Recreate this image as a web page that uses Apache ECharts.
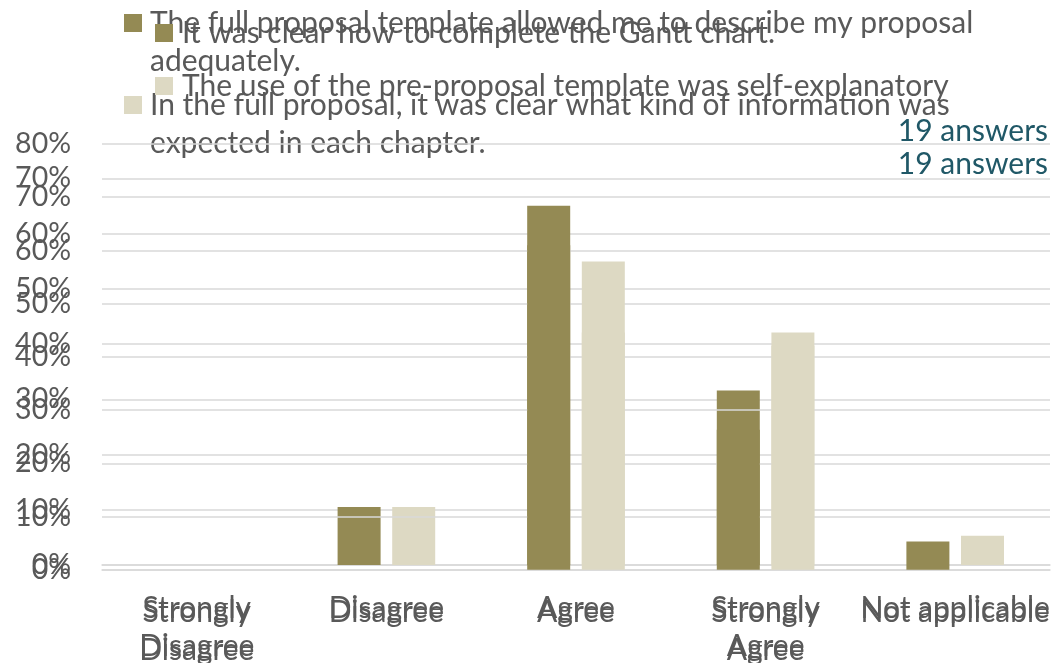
<!DOCTYPE html>
<html>
<head>
<meta charset="utf-8">
<script src="https://cdn.jsdelivr.net/npm/echarts@6/dist/echarts.min.js"></script>
<style>
html,body{margin:0;padding:0;background:#fff;}
#c{width:1052px;height:663px;}
</style>
</head>
<body>
<div id="c"></div>
<script>
// Categories (shared by both overlaid charts)
var categories = ['Strongly Disagree', 'Disagree', 'Agree', 'Strongly Agree', 'Not applicable'];

// Chart A (axis 0–70%)
var nameFullDescribe = 'The full proposal template allowed me to describe my proposal\nadequately.';
var nameFullChapters = 'In the full proposal, it was clear what kind of information was\nexpected in each chapter.';
var fullDescribe = [0, 10.5, 57.9, 31.6, 0];
var fullChapters = [0, 10.5, 42.1, 42.1, 5.3];
var answersA = '19 answers';
var maxA = 70;

// Chart B (axis 0–80%)
var nameGantt = 'It was clear how to complete the Gantt chart.';
var namePreProposal = 'The use of the pre-proposal template was self-explanatory';
var gantt = [0, 0, 68.4, 26.3, 5.3];
var preProposal = [0, 0, 57.9, 42.1, 0];
var answersB = '19 answers';
var maxB = 80;

var tickInterval = 10;

var FONT = 'Lato';
var GRAY = '#595959';
var DARK = '#948A54';
var LIGHT = '#DDD9C3';
var GRID = '#D9D9D9';
var TEAL = '#205867';
var FS = 30;

function yAxis(gridIndex, max, z) {
  return {
    type: 'value', gridIndex: gridIndex, min: 0, max: max, interval: tickInterval, z: z,
    axisLine: {show: false}, axisTick: {show: false},
    splitLine: {show: true, lineStyle: {color: GRID, width: 1.5}},
    axisLabel: {formatter: '{value}%', color: GRAY, fontFamily: FONT, fontSize: 28.5, margin: 31}
  };
}
function xAxis(gridIndex, z) {
  return {
    type: 'category', gridIndex: gridIndex, data: categories, z: z,
    axisLine: {show: true, lineStyle: {color: GRID, width: 1.5}},
    axisTick: {show: false},
    axisLabel: {interval: 0, color: GRAY, fontFamily: FONT, fontSize: FS, lineHeight: 38,
      margin: 24, hideOverlap: false,
      formatter: function (v) { return v.replace(/^Strongly /, 'Strongly\n'); }}
  };
}
function legend(name, left, top, twoLine, z) {
  return {
    data: [name], left: left, top: top, orient: 'vertical', padding: 0, z: z,
    icon: 'rect', itemWidth: 18, itemHeight: 18, itemGap: 0, selectedMode: false,
    formatter: twoLine ? function (n) { return '\n' + n; } : '{name}',
    textStyle: {
      color: GRAY, fontFamily: FONT, fontSize: FS, lineHeight: 38,
      padding: [0, 0, 0, twoLine ? 3 : 4]
    }
  };
}
function bar(name, data, xi, yi, color, z) {
  return {
    type: 'bar', name: name, data: data, xAxisIndex: xi, yAxisIndex: yi, z: z,
    barWidth: 43, barGap: '27%', itemStyle: {color: color}, animation: false
  };
}

var chart = echarts.init(document.getElementById('c'), null, {renderer: 'canvas'});
chart.setOption({
  animation: false,
  backgroundColor: '#fff',
  title: [
    {text: answersA, right: 4, top: 145, padding: 0, z: 3,
      textStyle: {color: TEAL, fontFamily: FONT, fontSize: FS, fontWeight: 'normal', lineHeight: 38}},
    {text: answersB, right: 4, top: 112, padding: 0, z: 6,
      textStyle: {color: TEAL, fontFamily: FONT, fontSize: FS, fontWeight: 'normal', lineHeight: 38}}
  ],
  legend: [
    legend(nameFullDescribe, 124, -34, true, 3),
    legend(nameFullChapters, 124, 48, true, 3),
    legend(nameGantt, 155, 14, false, 6),
    legend(namePreProposal, 155, 67, false, 6)
  ],
  grid: [
    {left: 102, right: 2, top: 178.3, bottom: 98, containLabel: false, outerBoundsMode: 'none'},
    {left: 102, right: 2, top: 144, bottom: 93.3, containLabel: false, outerBoundsMode: 'none'}
  ],
  xAxis: [xAxis(0, 1), xAxis(1, 4)],
  yAxis: [yAxis(0, maxA, 1), yAxis(1, maxB, 4)],
  series: [
    bar(nameFullDescribe, fullDescribe, 0, 0, DARK, 2),
    bar(nameFullChapters, fullChapters, 0, 0, LIGHT, 2),
    bar(nameGantt, gantt, 1, 1, DARK, 5),
    bar(namePreProposal, preProposal, 1, 1, LIGHT, 5)
  ]
});
</script>
</body>
</html>
